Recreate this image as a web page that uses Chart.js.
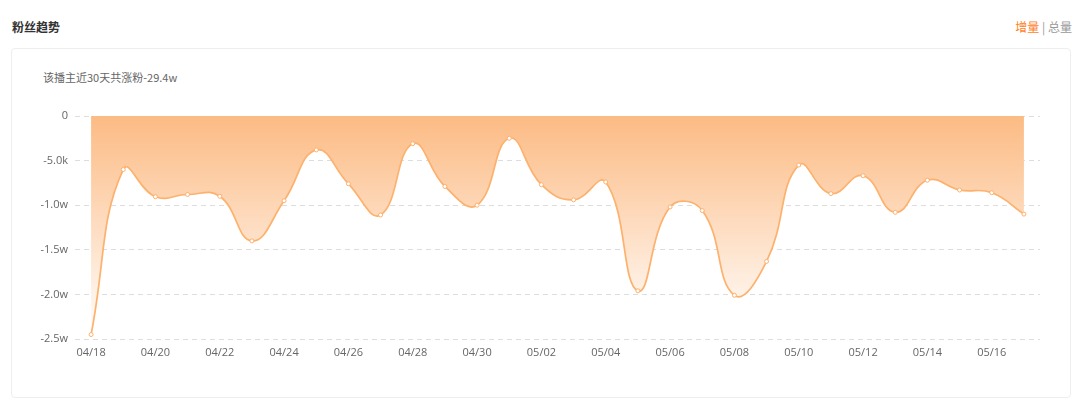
<!DOCTYPE html>
<html>
<head>
<meta charset="utf-8">
<script src="https://cdn.jsdelivr.net/npm/chart.js@4"></script>
<style>
    body { margin: 0; width: 1080px; height: 403px; background: #fff; font-family: "Noto Sans CJK SC", "Noto Sans", sans-serif; position: relative; overflow: hidden; }
    .title { position: absolute; left: 12px; top: 18px; font-size: 12px; font-weight: bold; color: #333; }
    .switch { position: absolute; right: 8px; top: 18px; font-size: 12px; color: #999; }
    .switch .on { color: #ff7f1f; }
    .card { position: absolute; left: 11px; top: 48px; width: 1060px; height: 350px; border: 1px solid #eee; border-radius: 4px; box-sizing: border-box; }
    .sub { position: absolute; left: 43px; top: 69px; font-size: 11px; color: #666; }
    .wrap { position: absolute; left: 20px; top: 100px; width: 1030px; height: 265px; }
</style>
</head>
<body>
<div class="title">粉丝趋势</div>
<div class="switch"><span class="on">增量</span> | 总量</div>
<div class="card"></div>
<div class="sub">该播主近30天共涨粉-29.4w</div>
<div class="wrap"><canvas id="fansChart"></canvas></div>
<script>
const days = ["04/18", "04/19", "04/20", "04/21", "04/22", "04/23", "04/24", "04/25", "04/26", "04/27",
    "04/28", "04/29", "04/30", "05/01", "05/02", "05/03", "05/04", "05/05", "05/06", "05/07",
    "05/08", "05/09", "05/10", "05/11", "05/12", "05/13", "05/14", "05/15", "05/16", "05/17"];
const fansGain = [-24500, -6000, -9050, -8800, -9000, -14000, -9500, -3800, -7600, -11100,
    -3100, -7900, -10000, -2500, -7700, -9400, -7400, -19600, -10200, -10600,
    -20100, -16300, -5500, -8700, -6700, -10800, -7200, -8300, -8600, -11000];
const yTickLabels = { "0": "0", "-5000": "-5.0k", "-10000": "-1.0w", "-15000": "-1.5w", "-20000": "-2.0w", "-25000": "-2.5w" };

const canvas = document.getElementById("fansChart");

function areaGradient(context) {
    const area = context.chart.chartArea;
    if (!area) return "rgba(252, 187, 132, 0.8)";
    const g = context.chart.ctx.createLinearGradient(0, area.top, 0, area.bottom);
    g.addColorStop(0, "rgba(252, 187, 132, 1)");
    g.addColorStop(1, "rgba(255, 255, 255, 1)");
    return g;
}

new Chart(canvas, {
    type: "line",
    data: {
        labels: days,
        datasets: [{
            label: "增量",
            data: fansGain,
            borderColor: "#fdb16c",
            backgroundColor: areaGradient,
            borderWidth: 1.7,
            fill: "origin",
            tension: 0.45,
            pointRadius: 2,
            pointBorderWidth: 1,
            pointBackgroundColor: "#fff",
            pointBorderColor: "#fdb16c"
        }]
    },
    options: {
        responsive: true,
        maintainAspectRatio: false,
        animation: false,
        layout: { padding: { top: 16, right: 10, left: 0, bottom: 0 } },
        plugins: { legend: { display: false }, tooltip: { enabled: false } },
        scales: {
            x: {
                offset: true,
                grid: { display: false, drawTicks: false },
                border: { display: false },
                afterFit: function(axis) { axis.height = 26; },
                ticks: {
                    autoSkip: false,
                    maxRotation: 0,
                    padding: 7,
                    color: "#666",
                    font: { size: 11, family: "'Open Sans', 'Noto Sans', sans-serif" },
                    callback: function(value, index) {
                        return index % 2 === 0 ? days[index] : "";
                    }
                }
            },
            y: {
                min: -25000,
                max: 0,
                afterFit: function(axis) { axis.width = 55; },
                border: { display: false, dash: [5, 4] },
                grid: { color: "#ddd", drawTicks: false },
                ticks: {
                    stepSize: 5000,
                    padding: 7,
                    color: "#666",
                    font: { size: 11, family: "'Open Sans', 'Noto Sans', sans-serif" },
                    callback: function(value) {
                        return yTickLabels[String(value)] || "";
                    }
                }
            }
        }
    }
});
</script>
</body>
</html>
